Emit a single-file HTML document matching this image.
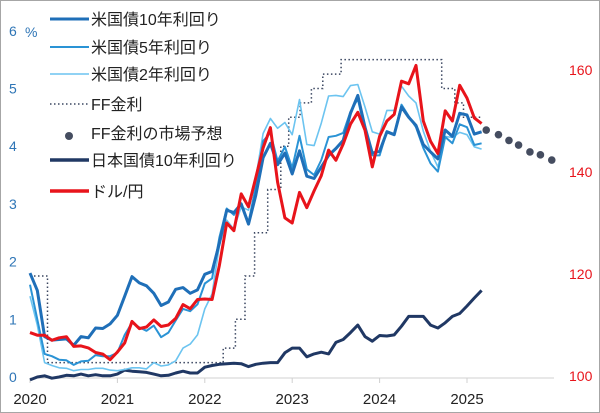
<!DOCTYPE html>
<html><head><meta charset="utf-8">
<style>
html,body{margin:0;padding:0;background:#fff;}
#wrap{position:relative;width:600px;height:413px;box-sizing:border-box;border:1px solid #a6a6a6;overflow:hidden;}
svg{position:absolute;left:0;top:0;font-family:"Liberation Sans","Noto Sans CJK JP",sans-serif;}
</style></head>
<body>
<div id="wrap">
<svg id="chart" width="600" height="413"></svg>
</div>
<script>
const years=[2020,2021,2022,2023,2024,2025];
const leftTicks=[0,1,2,3,4,5,6];
const rightTicks=[100,120,140,160];
const us10=[1.8,1.5,0.7,0.64,0.65,0.66,0.55,0.7,0.68,0.85,0.84,0.92,1.07,1.4,1.74,1.63,1.58,1.45,1.24,1.3,1.52,1.55,1.45,1.51,1.78,1.83,2.32,2.89,2.85,3.0,2.65,3.15,3.8,4.05,3.68,3.88,3.52,3.92,3.48,3.44,3.64,3.84,3.96,4.1,4.57,4.88,4.33,3.88,3.91,4.25,4.2,4.68,4.5,4.36,4.03,3.9,3.78,4.28,4.17,4.57,4.54,4.21,4.25];
const us5=[1.6,1.0,0.4,0.36,0.3,0.29,0.21,0.27,0.28,0.38,0.36,0.36,0.42,0.73,0.94,0.86,0.8,0.89,0.69,0.77,0.98,1.18,1.14,1.26,1.62,1.71,2.42,2.92,2.81,3.01,2.68,3.3,4.09,4.23,3.74,3.99,3.62,4.18,3.6,3.5,3.76,4.16,4.18,4.23,4.6,4.82,4.27,3.84,3.84,4.26,4.21,4.72,4.52,4.33,3.97,3.7,3.56,4.16,4.05,4.38,4.33,4.02,4.05];
const us2=[1.4,0.9,0.25,0.2,0.16,0.15,0.11,0.13,0.13,0.15,0.15,0.12,0.11,0.13,0.16,0.16,0.14,0.25,0.19,0.21,0.28,0.5,0.57,0.73,1.18,1.44,2.28,2.72,2.56,2.95,2.89,3.45,4.22,4.48,4.31,4.41,4.2,4.81,4.03,4.01,4.4,4.87,4.88,4.86,5.05,5.07,4.68,4.25,4.21,4.62,4.62,5.04,4.87,4.75,4.26,3.91,3.64,4.17,4.15,4.24,4.2,3.99,3.95];
const jgb=[-0.05,0.0,0.02,-0.02,0.0,0.03,0.02,0.05,0.02,0.04,0.02,0.02,0.05,0.12,0.1,0.09,0.08,0.05,0.02,0.03,0.07,0.1,0.07,0.07,0.17,0.2,0.22,0.23,0.24,0.23,0.18,0.22,0.24,0.25,0.25,0.42,0.5,0.5,0.35,0.4,0.43,0.4,0.6,0.65,0.77,0.9,0.7,0.62,0.72,0.71,0.73,0.88,1.05,1.05,1.05,0.9,0.85,0.94,1.05,1.1,1.23,1.37,1.5];
const usdjpy=[108.5,108,108,107,107.5,107.7,105.8,105.9,105.5,104.6,104.3,103.2,104.7,106.5,110.7,109.3,109.6,111,109.7,110,111.3,114,113.2,115,115.1,115,121.7,130,128.5,135.7,133.2,138.9,144.7,148.7,138,131,130,136,133,136.3,139.3,144.3,142.3,145.5,149.4,151.7,148.2,141,147,150,151.3,157.8,157.3,160.9,150,146,143.6,152,150,157,154.5,150.6,149.5];
const ffDates=[2020.0,2020.2,2022.21,2022.35,2022.46,2022.57,2022.72,2022.87,2022.96,2023.09,2023.22,2023.35,2023.56,2024.71,2024.86,2024.96,2025.17];
const ffRate=[1.75,0.25,0.5,1.0,1.75,2.5,3.25,4.0,4.5,4.75,5.0,5.25,5.5,5.0,4.75,4.5,4.5];
const fcDates=[2025.22,2025.36,2025.48,2025.59,2025.72,2025.84,2025.97];
const fcRate=[4.28,4.2,4.1,4.02,3.9,3.85,3.76];

const svg=document.getElementById('chart');
const NS='http://www.w3.org/2000/svg';
const X=t=>29+(t-2020)*87.4;
const YL=v=>376-v*57.7;
const YR=v=>375-(v-100)*5.1;
const mDate=i=>2020+i/12;
function mk(tag,attrs,parent){const e=document.createElementNS(NS,tag);for(const k in attrs)e.setAttribute(k,attrs[k]);(parent||svg).appendChild(e);return e;}

const axis=mk('line',{x1:29,y1:377,x2:553,y2:377,stroke:'#d0d0d0','stroke-width':1});


years.forEach(y=>{
  const t=mk('line',{x1:X(y),y1:377,x2:X(y),y2:382,stroke:'#d0d0d0'});
  
  
  const l=mk('text',{x:X(y),y:403,'text-anchor':'middle','font-size':15,fill:'#222'});
  l.textContent=y;
  
  
});
leftTicks.forEach(v=>{
  const l=mk('text',{x:8,y:YL(v)+5,'font-size':14,fill:'#2e75b6'});
  l.textContent=v;
  
  
});
const pct=mk('text',{x:24,y:36,'font-size':14,fill:'#2e75b6'});
pct.textContent='%';


rightTicks.forEach(v=>{
  const l=mk('text',{x:568,y:YR(v)+5,'font-size':14,fill:'#e8141b'});
  l.textContent=v;
  
  
});

function series(arr,yf,color,w,name){
  const d=arr.map((v,i)=>(i?'L':'M')+X(mDate(i)).toFixed(1)+','+yf(v).toFixed(1)).join('');
  const p=mk('path',{d:d,fill:'none',stroke:color,'stroke-width':w,'stroke-linejoin':'round'});
  
  
}
let fd='';
ffDates.forEach((t,i)=>{
  if(i===0)fd='M'+X(t)+','+YL(ffRate[i]);
  else fd+='H'+X(t).toFixed(1)+'V'+YL(ffRate[i]).toFixed(1);
});
const ff=mk('path',{d:fd,fill:'none',stroke:'#3a4660','stroke-width':1.5,'stroke-dasharray':'1.5,2.5'});



series(jgb,YL,'#203864',3,'jgb10-line');
series(us2,YL,'#6cc4f0',1.6,'us2y-line');
series(us5,YL,'#2a93d5',2,'us5y-line');
series(us10,YL,'#1f6fb8',3,'us10y-line');
series(usdjpy,YR,'#e8141b',3,'usdjpy-line');

fcDates.forEach((t,i)=>{
  const c=mk('circle',{cx:X(t),cy:YL(fcRate[i]),r:3.8,fill:'#454d60'});
  
  
});

const legend=[
 ['米国債10年利回り','#1f6fb8',3,'line'],
 ['米国債5年利回り','#2a93d5',2,'line'],
 ['米国債2年利回り','#6cc4f0',1.6,'line'],
 ['FF金利','#3a4660',1.5,'dot'],
 ['FF金利の市場予想','#454d60',0,'marker'],
 ['日本国債10年利回り','#203864',3.5,'line'],
 ['ドル/円','#e8141b',3.5,'line']];
const legendY=[18,46,73,103,132,159,190];
legend.forEach((it,i)=>{
  const g=mk('g',{});
  
  
  const y=legendY[i];
  if(it[3]==='marker')mk('circle',{cx:68,cy:y+3,r:4,fill:it[1]},g);
  else mk('line',{x1:49,y1:y,x2:88,y2:y,stroke:it[1],'stroke-width':it[2],'stroke-dasharray':it[3]==='dot'?'1.5,2.5':'none'},g);
  const t=mk('text',{x:90,y:y+6,'font-size':16,fill:'#222'},g);
  t.textContent=it[0];
});
</script>
</body></html>
